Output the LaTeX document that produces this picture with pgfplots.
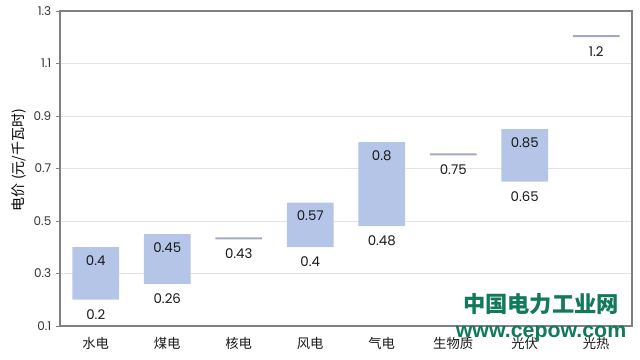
\documentclass[border=0pt]{standalone}
\usepackage{fontspec}
\setmainfont{Poppins}
\newfontfamily\cjk{Noto Sans CJK SC}
\newfontfamily\wm{Liberation Sans}
\usepackage{pgfplots}
\usepackage{pgfplotstable}
\pgfplotsset{compat=1.18}
\definecolor{barblue}{HTML}{B4C5E7}
\definecolor{linegray}{HTML}{A2AABF}
\definecolor{wmgreen}{HTML}{12795B}
\definecolor{framegray}{HTML}{808080}

\pgfplotstableread{
x low high lw lowlab highlab
0 0.20 0.40 0     0.2  0.4
1 0.26 0.45 0     0.26 0.45
2 0.43 0.43 0.008 0.43 {}
3 0.40 0.57 0     0.4  0.57
4 0.48 0.80 0     0.48 0.8
5 0.75 0.75 0.008 0.75 {}
6 0.65 0.85 0     0.65 0.85
7 1.20 1.20 0.008 1.2  {}
}\data

\pgfplotsset{common/.style={scale only axis, width=429pt, height=236.25pt,
  xmin=-0.5, xmax=7.5, ymin=0.1, ymax=1.3}}

\begin{document}
\begin{tikzpicture}
\path[use as bounding box] (-45pt,-25.5pt) rectangle (435pt,244.5pt);
\begin{axis}[
  common,
  ybar stacked, bar width=35pt,
  ytick={0.1,0.3,0.5,0.7,0.9,1.1,1.3},
  xtick={0,1,2,3,4,5,6,7},
  xticklabels={水电,煤电,核电,风电,气电,生物质,光伏,光热},
  xticklabel style={font=\cjk\fontsize{10}{12}\selectfont, text=black!90, yshift=-2pt},
  major x tick style={draw=none},
  ytick pos=left,
  ymajorgrids, grid style={gray!22, line width=0.6pt},
  axis line style={framegray, line width=0.8pt},
  tick style={framegray},
  tick align=outside, major tick length=3pt,
  /pgf/number format/assume math mode=true,
  yticklabel={\pgfmathprintnumber[fixed,fixed zerofill,precision=1]{\tick}},
  yticklabel style={font=\fontsize{9}{10}\selectfont, text=black!80},
  ylabel={电价 (元/千瓦时)},
  every axis y label/.style={at={(axis description cs:-0.072,0.527)}, anchor=center, rotate=90, font=\cjk\fontsize{10.5}{12}\selectfont},
  clip=false,
]
\addplot[fill=none, draw=none] table[x=x, y=low] {\data};
\addplot[fill=barblue, draw=none] table[x=x, y expr=\thisrow{high}-\thisrow{low}] {\data};
\addplot[fill=linegray, draw=none] table[x=x, y=lw] {\data};
\end{axis}
\begin{axis}[common, hide axis, clip=false]
\addplot[draw=none, mark=none, nodes near coords, point meta=explicit symbolic,
  every node near coord/.append style={font=\fontsize{10}{12}\selectfont, text=black!90, anchor=center, yshift=-11pt}]
  table[x=x, y=low, meta=lowlab] {\data};
\addplot[draw=none, mark=none, nodes near coords, point meta=explicit symbolic,
  every node near coord/.append style={font=\fontsize{10}{12}\selectfont, text=black!90, anchor=center, yshift=-10pt}]
  table[x=x, y=high, meta=highlab] {\data};
\node[font=\cjk\bfseries\fontsize{16.7}{17}\selectfont, text=wmgreen] at (rel axis cs:0.841,0.07) {中国电力工业网};
\node[font=\wm\bfseries\fontsize{16}{16}\selectfont, text=wmgreen, anchor=base] at (rel axis cs:0.841,-0.035) {www.cepow.com};
\end{axis}
\end{tikzpicture}
\end{document}
